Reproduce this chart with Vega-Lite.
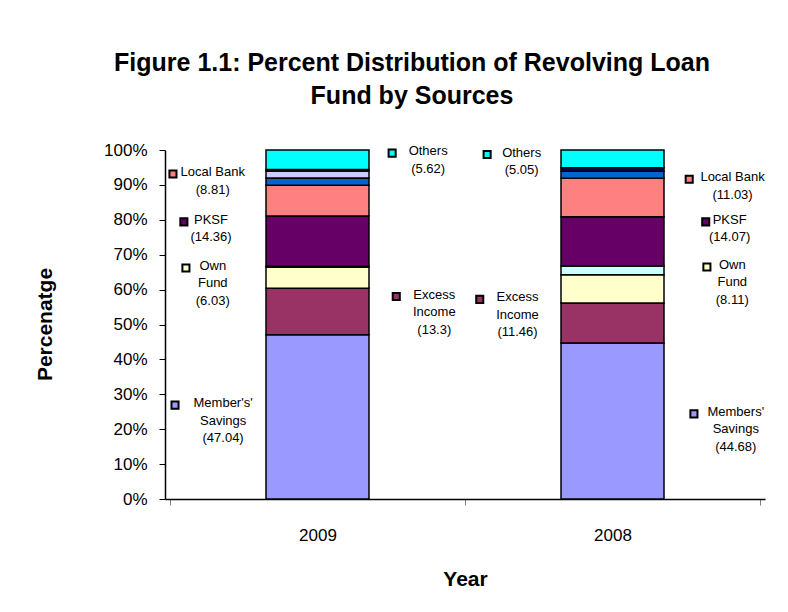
{
  "$schema": "https://vega.github.io/schema/vega-lite/v6.json",
  "width": 600,
  "height": 349,
  "autosize": {"type": "none"},
  "padding": {"left": 165, "top": 150, "right": 23, "bottom": 113},
  "background": "white",
  "title": {
    "text": ["Figure 1.1: Percent Distribution of Revolving Loan", "Fund by Sources"],
    "font": "Liberation Sans",
    "fontSize": 25,
    "fontWeight": "bold",
    "color": "black",
    "anchor": "middle",
    "frame": "group",
    "dx": -53,
    "offset": 32,
    "lineHeight": 33
  },
  "config": {
    "view": {"stroke": null},
    "font": "Liberation Sans",
    "axis": {
      "grid": false,
      "domainColor": "black",
      "domainWidth": 1.5,
      "tickSize": 6,
      "labelFontSize": 17,
      "labelColor": "black",
      "labelFlush": false,
      "labelOverlap": false,
      "titleFontSize": 21,
      "titleFontWeight": "bold",
      "titleColor": "black",
      "titleAlign": "center",
      "titleBaseline": "middle"
    }
  },
  "datasets": {
    "bars": [
      {"year": "2009", "pos": 0.5, "source": "Members' Savings", "k": 1, "value": 47.04},
      {"year": "2009", "pos": 0.5, "source": "Excess Income", "k": 2, "value": 13.3},
      {"year": "2009", "pos": 0.5, "source": "Own Fund", "k": 3, "value": 6.03},
      {"year": "2009", "pos": 0.5, "source": "Series 4", "k": 4, "value": 0.3},
      {"year": "2009", "pos": 0.5, "source": "PKSF", "k": 5, "value": 14.36},
      {"year": "2009", "pos": 0.5, "source": "Local Bank", "k": 6, "value": 8.81},
      {"year": "2009", "pos": 0.5, "source": "Series 7", "k": 7, "value": 2.1},
      {"year": "2009", "pos": 0.5, "source": "Series 8", "k": 8, "value": 2.0},
      {"year": "2009", "pos": 0.5, "source": "Series 9", "k": 9, "value": 0.4},
      {"year": "2009", "pos": 0.5, "source": "Others", "k": 10, "value": 5.62},
      {"year": "2008", "pos": 1.5, "source": "Members' Savings", "k": 1, "value": 44.68},
      {"year": "2008", "pos": 1.5, "source": "Excess Income", "k": 2, "value": 11.46},
      {"year": "2008", "pos": 1.5, "source": "Own Fund", "k": 3, "value": 8.11},
      {"year": "2008", "pos": 1.5, "source": "Series 4", "k": 4, "value": 2.5},
      {"year": "2008", "pos": 1.5, "source": "PKSF", "k": 5, "value": 14.07},
      {"year": "2008", "pos": 1.5, "source": "Local Bank", "k": 6, "value": 11.03},
      {"year": "2008", "pos": 1.5, "source": "Series 7", "k": 7, "value": 2.05},
      {"year": "2008", "pos": 1.5, "source": "Series 9", "k": 9, "value": 1.0},
      {"year": "2008", "pos": 1.5, "source": "Others", "k": 10, "value": 5.05}
    ],
    "labels": [
      {"year": "2009", "source": "Local Bank", "lines": ["Local Bank", "(8.81)"], "sx": 0.01, "sy": 0.931, "tx": 0.145},
      {"year": "2009", "source": "PKSF", "lines": ["PKSF", "(14.36)"], "sx": 0.047, "sy": 0.794, "tx": 0.139},
      {"year": "2009", "source": "Own Fund", "lines": ["Own", "Fund", "(6.03)"], "sx": 0.054, "sy": 0.662, "tx": 0.145},
      {"year": "2009", "source": "Members' Savings", "lines": ["Member's'", "Savings", "(47.04)"], "sx": 0.017, "sy": 0.269, "tx": 0.18},
      {"year": "2009", "source": "Others", "lines": ["Others", "(5.62)"], "sx": 0.753, "sy": 0.991, "tx": 0.875},
      {"year": "2009", "source": "Excess Income", "lines": ["Excess", "Income", "(13.3)"], "sx": 0.767, "sy": 0.58, "tx": 0.896},
      {"year": "2008", "source": "Others", "lines": ["Others", "(5.05)"], "sx": 1.075, "sy": 0.987, "tx": 1.192},
      {"year": "2008", "source": "Excess Income", "lines": ["Excess", "Income", "(11.46)"], "sx": 1.05, "sy": 0.572, "tx": 1.178},
      {"year": "2008", "source": "Local Bank", "lines": ["Local Bank", "(11.03)"], "sx": 1.76, "sy": 0.916, "tx": 1.907},
      {"year": "2008", "source": "PKSF", "lines": ["PKSF", "(14.07)"], "sx": 1.816, "sy": 0.794, "tx": 1.897},
      {"year": "2008", "source": "Own Fund", "lines": ["Own", "Fund", "(8.11)"], "sx": 1.82, "sy": 0.665, "tx": 1.906},
      {"year": "2008", "source": "Members' Savings", "lines": ["Members'", "Savings", "(44.68)"], "sx": 1.776, "sy": 0.244, "tx": 1.918}
    ]
  },
  "layer": [
    {
      "data": {"name": "bars"},
      "mark": {"type": "bar", "width": 103, "stroke": "black", "strokeWidth": 1.5},
      "encoding": {
        "x": {
          "field": "pos",
          "type": "quantitative",
          "title": "Year",
          "scale": {"domain": [0, 2], "nice": false, "zero": false},
          "axis": {
            "title": "Year",
            "values": [0, 0.5, 1, 1.5, 2],
            "labelExpr": "datum.value == 0.5 ? '2009' : (datum.value == 1.5 ? '2008' : '')",
            "tickOpacity": {"condition": {"test": "datum.value == 0.5 || datum.value == 1.5", "value": 0}, "value": 1},
            "tickColor": "#808080",
            "labelPadding": 22,
            "titleX": 300,
            "titleY": 80
          }
        },
        "y": {
          "field": "value",
          "type": "quantitative",
          "title": "Percenatge",
          "stack": "normalize",
          "scale": {"domain": [0, 1], "nice": false},
          "axis": {
            "title": "Percenatge",
            "format": ".0%",
            "values": [0, 0.1, 0.2, 0.3, 0.4, 0.5, 0.6, 0.7, 0.8, 0.9, 1],
            "tickColor": "black",
            "labelPadding": 12,
            "titleX": -120,
            "titleY": 174,
            "titleAngle": -90
          }
        },
        "color": {
          "field": "source",
          "type": "nominal",
          "scale": {
            "domain": ["Members' Savings", "Excess Income", "Own Fund", "Series 4", "PKSF", "Local Bank", "Series 7", "Series 8", "Series 9", "Others"],
            "range": ["#9999FF", "#993366", "#FFFFCC", "#CCFFFF", "#660066", "#FF8080", "#0066CC", "#CCCCFF", "#000080", "#00FFFF"]
          },
          "legend": null
        },
        "order": {"field": "k", "type": "quantitative"}
      }
    },
    {
      "data": {"name": "labels"},
      "mark": {"type": "point", "shape": "square", "filled": true, "size": 50, "stroke": "black", "strokeWidth": 2, "opacity": 1},
      "encoding": {
        "x": {
          "field": "sx",
          "type": "quantitative",
          "title": "Year",
          "axis": {
            "title": "Year",
            "values": [0, 0.5, 1, 1.5, 2],
            "labelExpr": "datum.value == 0.5 ? '2009' : (datum.value == 1.5 ? '2008' : '')",
            "tickOpacity": {"condition": {"test": "datum.value == 0.5 || datum.value == 1.5", "value": 0}, "value": 1},
            "tickColor": "#808080",
            "labelPadding": 22,
            "titleX": 300,
            "titleY": 80
          }
        },
        "y": {
          "field": "sy",
          "type": "quantitative",
          "stack": null,
          "title": "Percenatge",
          "axis": {
            "title": "Percenatge",
            "format": ".0%",
            "values": [0, 0.1, 0.2, 0.3, 0.4, 0.5, 0.6, 0.7, 0.8, 0.9, 1],
            "tickColor": "black",
            "labelPadding": 12,
            "titleX": -120,
            "titleY": 174,
            "titleAngle": -90
          }
        },
        "color": {"field": "source", "type": "nominal", "legend": null}
      }
    },
    {
      "data": {"name": "labels"},
      "mark": {"type": "text", "align": "center", "baseline": "top", "dy": -8, "fontSize": 13, "lineHeight": 17.5, "color": "black", "font": "Liberation Sans"},
      "encoding": {
        "x": {
          "field": "tx",
          "type": "quantitative",
          "title": "Year",
          "axis": {
            "title": "Year",
            "values": [0, 0.5, 1, 1.5, 2],
            "labelExpr": "datum.value == 0.5 ? '2009' : (datum.value == 1.5 ? '2008' : '')",
            "tickOpacity": {"condition": {"test": "datum.value == 0.5 || datum.value == 1.5", "value": 0}, "value": 1},
            "tickColor": "#808080",
            "labelPadding": 22,
            "titleX": 300,
            "titleY": 80
          }
        },
        "y": {
          "field": "sy",
          "type": "quantitative",
          "stack": null,
          "title": "Percenatge",
          "axis": {
            "title": "Percenatge",
            "format": ".0%",
            "values": [0, 0.1, 0.2, 0.3, 0.4, 0.5, 0.6, 0.7, 0.8, 0.9, 1],
            "tickColor": "black",
            "labelPadding": 12,
            "titleX": -120,
            "titleY": 174,
            "titleAngle": -90
          }
        },
        "text": {"field": "lines"}
      }
    }
  ]
}
